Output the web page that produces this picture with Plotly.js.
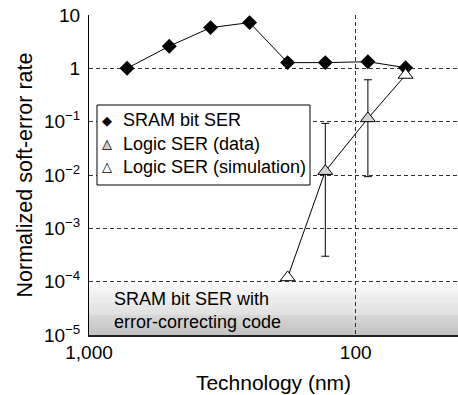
<!DOCTYPE html>
<html><head><meta charset="utf-8">
<script src="https://cdn.plot.ly/plotly-3.0.1.min.js"></script>
<style>html,body{margin:0;padding:0;background:#fff}#chart{width:458px;height:395px}</style>
</head><body><div id="chart"></div>
<script>
// ---- data ----
const sramNodes = [720, 500, 350, 250, 180, 130, 90, 65];
const sramSER   = [1.0, 2.6, 5.8, 7.2, 1.28, 1.28, 1.33, 1.03];

const logicDataNodes   = [130, 90];
const logicDataSER     = [0.0118, 0.115];
const logicDataErrHigh = [0.093, 0.61];
const logicDataErrLow  = [0.0003, 0.0093];

const logicSimNodes = [180, 65];
const logicSimSER   = [0.00012, 0.75];

const xTickVals = [1000, 100];
const xTickText = ['1,000', '100'];
const yTickVals = [1e-5, 1e-4, 1e-3, 1e-2, 1e-1, 1, 10];
const yTickText = ['10<sup>\u22125</sup>', '10<sup>\u22124</sup>', '10<sup>\u22123</sup>',
                   '10<sup>\u22122</sup>', '10<sup>\u22121</sup>', '1', '10'];
const legendLabels = ['SRAM bit SER', 'Logic SER (data)', 'Logic SER (simulation)'];
const eccLabel = 'SRAM bit SER with<br>error-correcting code';
const xTitle = 'Technology (nm)';
const yTitle = 'Normalized soft-error rate';

// ---- build traces ----
const FONT = 'Liberation Sans, Arial, Helvetica, sans-serif';
const logicAll = logicDataNodes.map((n, i) => [n, logicDataSER[i]])
  .concat(logicSimNodes.map((n, i) => [n, logicSimSER[i]]))
  .sort((a, b) => b[0] - a[0]);

const traces = [
  { x: logicAll.map(p => p[0]), y: logicAll.map(p => p[1]), type: 'scatter', mode: 'lines',
    line: { color: '#000', width: 1 }, showlegend: false, hoverinfo: 'skip' },
  { x: sramNodes, y: sramSER, type: 'scatter', mode: 'lines+markers', name: legendLabels[0],
    line: { color: '#000', width: 1 },
    marker: { symbol: 'diamond', size: 11.5, color: '#000' }, showlegend: false },
  { x: logicDataNodes, y: logicDataSER, type: 'scatter', mode: 'markers', name: legendLabels[1],
    marker: { symbol: 'triangle-up', size: 13, color: '#d4d4d4', line: { color: '#000', width: 1 } },
    error_y: { type: 'data', symmetric: false,
      array: logicDataErrHigh.map((h, i) => h - logicDataSER[i]),
      arrayminus: logicDataErrLow.map((l, i) => logicDataSER[i] - l),
      color: '#000', thickness: 1, width: 4 },
    showlegend: false },
  { x: logicSimNodes, y: logicSimSER, type: 'scatter', mode: 'markers', name: legendLabels[2],
    marker: { symbol: 'triangle-up', size: 13, color: '#fff', line: { color: '#000', width: 1 } },
    showlegend: false }
];

// ---- gradient band for ECC region (bottom decade) ----
const shapes = [];
const N = 53, frac = 1 / 6;
for (let i = 0; i < N; i++) {
  const t = (i + 0.5) / N;
  const g = Math.round(194 + t * (252 - 194));
  shapes.push({ type: 'rect', xref: 'paper', yref: 'paper', x0: 0, x1: 1,
    y0: i / N * frac, y1: (i + 1) / N * frac + 0.0005,
    fillcolor: `rgb(${g},${g},${g})`, line: { width: 0 }, layer: 'below' });
}
// legend box
const lx0 = 8 / 369, lx1 = 221 / 369, ly1 = 230 / 320, ly0 = 150 / 320;
shapes.push({ type: 'rect', xref: 'paper', yref: 'paper', x0: lx0, x1: lx1, y0: ly0, y1: ly1,
  fillcolor: '#fff', line: { color: '#000', width: 1 }, layer: 'above' });

const rowY = [215 / 320, 191.5 / 320, 168.3 / 320];
const symX = 17.7 / 369, textX = 31.7 / 369;
const annotations = [];
legendLabels.forEach((lab, i) => {
  annotations.push({ xref: 'paper', yref: 'paper', x: textX, y: rowY[i], xanchor: 'left', yanchor: 'middle',
    text: lab, showarrow: false, font: { family: FONT, size: 18, color: '#000' } });
});
const gfont = (c, s) => ({ family: 'DejaVu Sans', size: s, color: c });
annotations.push({ xref: 'paper', yref: 'paper', x: symX, y: rowY[0], xanchor: 'center', yanchor: 'middle',
  text: '\u25C6', showarrow: false, font: gfont('#000', 13) });
annotations.push({ xref: 'paper', yref: 'paper', x: symX, y: rowY[1], xanchor: 'center', yanchor: 'middle',
  text: '\u25B2', showarrow: false, font: gfont('#d0d0d0', 13) });
annotations.push({ xref: 'paper', yref: 'paper', x: symX, y: rowY[1], xanchor: 'center', yanchor: 'middle',
  text: '\u25B3', showarrow: false, font: gfont('#000', 13) });
annotations.push({ xref: 'paper', yref: 'paper', x: symX, y: rowY[2], xanchor: 'center', yanchor: 'middle',
  text: '\u25B3', showarrow: false, font: gfont('#000', 13) });
annotations.push({ xref: 'paper', yref: 'paper', x: 23 / 369, y: 25 / 320, xanchor: 'left', yanchor: 'middle',
  align: 'left', text: eccLabel, showarrow: false, font: { family: FONT, size: 18, color: '#000' } });

const layout = {
  width: 458, height: 395,
  margin: { l: 89, r: 0, t: 15, b: 60 },
  paper_bgcolor: '#fff', plot_bgcolor: 'rgba(0,0,0,0)',
  font: { family: FONT, color: '#000' },
  showlegend: false,
  xaxis: {
    type: 'log', range: [3, 1.6164], tickvals: xTickVals, ticktext: xTickText,
    showgrid: true, gridcolor: '#333', gridwidth: 1, griddash: '4px,3px',
    showline: true, linecolor: '#222', linewidth: 1.5, ticks: '', zeroline: false,
    tickfont: { family: FONT, size: 19, color: '#000' },
    title: { text: xTitle, font: { family: FONT, size: 21, color: '#000' }, standoff: 13 }
  },
  yaxis: {
    type: 'log', range: [-5, 1], tickvals: yTickVals, ticktext: yTickText,
    showgrid: true, gridcolor: '#333', gridwidth: 1, griddash: '4px,3px',
    showline: true, linecolor: '#000', linewidth: 1, ticks: '', zeroline: false,
    ticklabelstandoff: 4,
    tickfont: { family: FONT, size: 19, color: '#000' },
    title: { text: yTitle, font: { family: FONT, size: 21.5, color: '#000' }, standoff: 5 }
  },
  shapes: shapes,
  annotations: annotations
};

Plotly.newPlot('chart', traces, layout, { displayModeBar: false, staticPlot: true });
</script>
</body></html>
